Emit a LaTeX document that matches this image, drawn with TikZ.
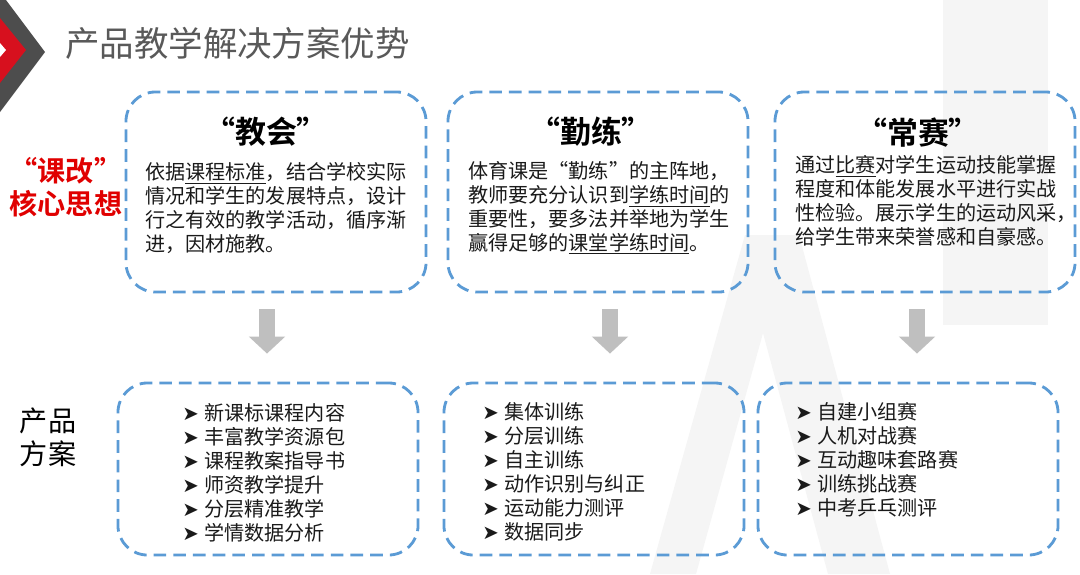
\documentclass[tikz,border=0pt]{standalone}
\usepackage{fontspec}
\usepackage{xcolor}
\usepackage{tikz}
\usetikzlibrary{arrows.meta,calc}
\setmainfont{Noto Sans CJK SC}[BoldFont={Noto Sans CJK SC Bold}]
\newfontfamily\symfont{DejaVu Sans}
\definecolor{planblue}{HTML}{5B9BD5}
\definecolor{planred}{HTML}{E00000}
\definecolor{plangray}{HTML}{BFBFBF}
\definecolor{plantitle}{HTML}{595959}
\definecolor{plandark}{HTML}{4D4D4D}
\definecolor{planlogo}{HTML}{D7101E}
\definecolor{planmark}{HTML}{F5F5F5}
\definecolor{plantext}{HTML}{1A1A1A}
\newcommand{\arritem}{\raisebox{0pt}{\symfont\fontsize{14}{14}\selectfont ➤}\hspace{4pt}}

\begin{document}
\begin{tikzpicture}[x=0.025cm, y=-0.025cm,
  dashbox/.style={draw=planblue, line width=2pt, dash pattern=on 9pt off 5pt,
    rounded corners=21pt, minimum width=7.5cm, minimum height=#1},
  bodytext/.style={anchor=west, inner sep=0pt, align=left, text=plantext,
    font=\fontsize{14.3}{17}\selectfont},
  boxtitle/.style={inner sep=0pt, font=\bfseries\fontsize{22}{26}\selectfont},
  bigarrow/.style={draw=plangray, line width=12pt,
    -{Triangle[width=25pt,length=12pt]}}
]
\useasboundingbox (0,0) rectangle (1080,574);
\fill[white] (0,0) rectangle (1080,574);
\fill[planmark] (943,0) rectangle (1048,325);
\fill[planmark] (650,574) -- (745,235) -- (799,235) -- (890,574) -- (828,574)
  -- (763,333) -- (696,574) -- cycle;

\fill[plandark] (0,-8) -- (45,52) -- (0,112) -- cycle;
\fill[planlogo] (0,18) -- (26,50) -- (0,83) -- cycle;
\fill[white] (0,43) -- (6,50) -- (0,57) -- cycle;
\node[anchor=west, inner sep=0pt, text=plantitle, font=\fontsize{24.5}{28}\selectfont]
  (title) at (65,43) {产品教学解决方案优势};

\node[align=center, text=planred, font=\bfseries\fontsize{20}{23.4}\selectfont]
  (kegai) at (66,187) {“课改”\\核心思想};
\node[align=center, font=\fontsize{20}{23.4}\selectfont] (fangan) at (48,437) {产品\\方案};

\node[dashbox=5cm] (jiaohui) at (276,192) {};
\node[dashbox=5cm] (qinlian) at (598,192) {};
\node[dashbox=5cm] (changsai) at (925,192) {};
\node[dashbox=4.3cm] (jhplan) at (268,469) {};
\node[dashbox=4.3cm] (qlplan) at (594,469) {};
\node[dashbox=4.3cm] (csplan) at (908,469) {};

\node[boxtitle] (jhtitle) at (266,132) {“教会”};
\node[boxtitle] (qltitle) at (591,132) {“勤练”};
\node[boxtitle] (cstitle) at (918,133) {“常赛”};

\node[bodytext] (jhtext) at (145,208) {依据\underline{课程标准}，结合学校实际\\情况和学生的发展特点，设计\\行之有效的教学活动，循序渐\\进，因材施教。};
\node[bodytext] (qltext) at (468,208) {体育课是“勤练”的主阵地，\\教师要充分认识到\underline{学练时间}的\\重要性，要多法并举地为学生\\赢得足够的\underline{课堂学练时间}。};
\node[bodytext] (cstext) at (795,201) {通过\underline{比赛}对学生运动技能掌握\\程度和体能发展水平进行实战\\性检验。展示学生的运动风采，\\给学生带来荣誉感和自豪感。};

\node[bodytext] (jhlist) at (182,473) {\arritem 新课标课程内容\\\arritem 丰富教学资源包\\\arritem 课程教案指导书\\\arritem 师资教学提升\\\arritem 分层精准教学\\\arritem 学情数据分析};
\node[bodytext] (qllist) at (482,472) {\arritem 集体训练\\\arritem 分层训练\\\arritem 自主训练\\\arritem 动作识别与纠正\\\arritem 运动能力测评\\\arritem 数据同步};
\node[bodytext] (cslist) at (795,460) {\arritem 自建小组赛\\\arritem 人机对战赛\\\arritem 互动趣味套路赛\\\arritem 训练挑战赛\\\arritem 中考乒乓测评};

\coordinate (s1) at ($(jiaohui.south)+(-9,16)$);
\coordinate (e1) at ($(jhplan.north)+(-1,-28)$);
\coordinate (s2) at ($(qinlian.south)+(12,16)$);
\coordinate (e2) at ($(qlplan.north)+(16,-28)$);
\coordinate (s3) at ($(changsai.south)+(-8,16)$);
\coordinate (e3) at ($(csplan.north)+(9,-28)$);
\draw[bigarrow] (s1) -- (e1);
\draw[bigarrow] (s2) -- (e2);
\draw[bigarrow] (s3) -- (e3);
\end{tikzpicture}
\end{document}
